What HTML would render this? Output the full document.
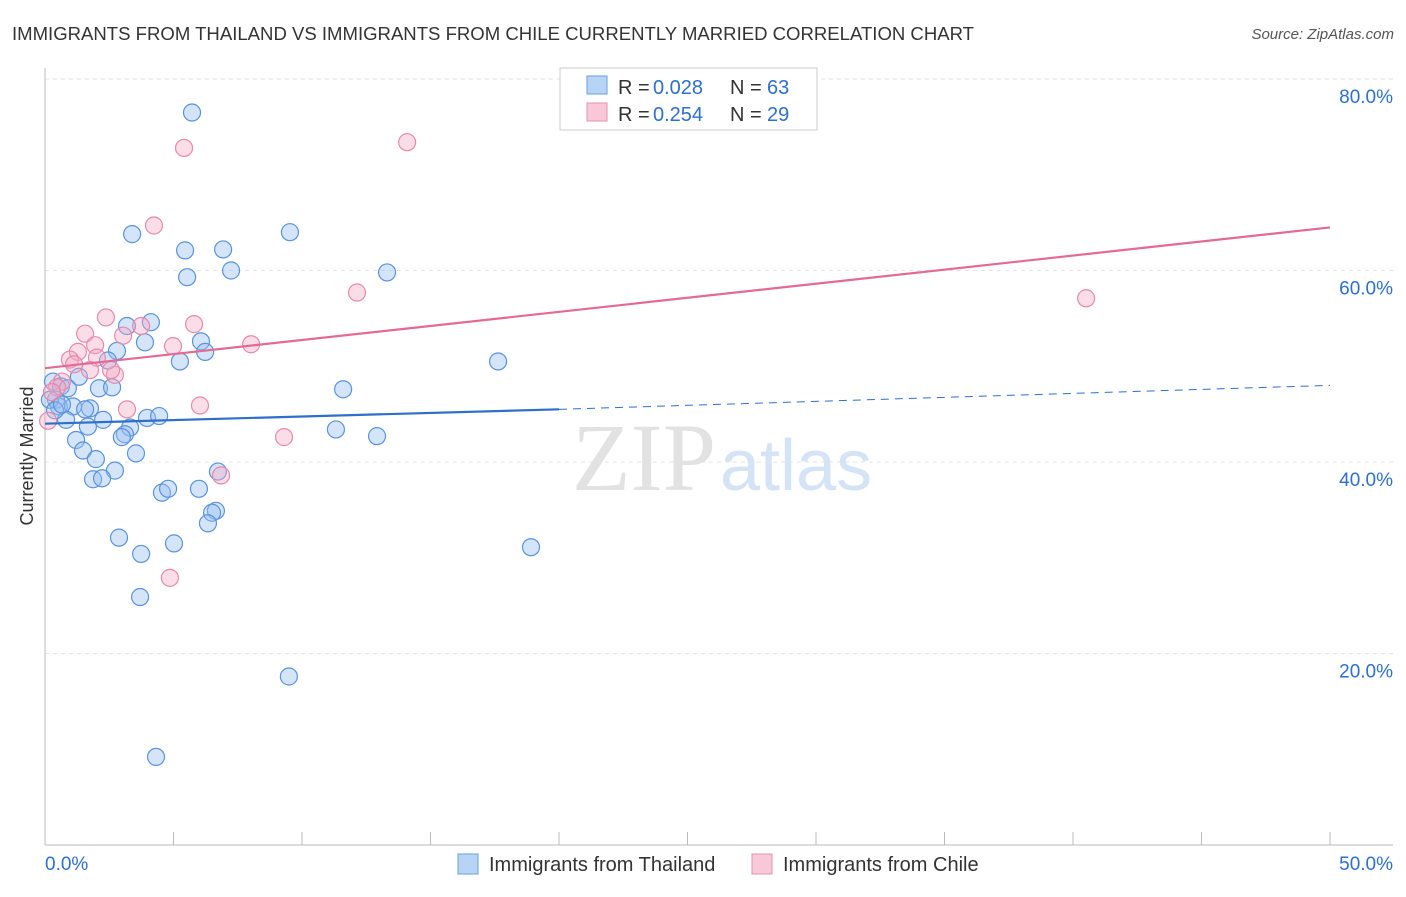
<!DOCTYPE html>
<html><head><meta charset="utf-8"><style>
body{margin:0;background:#fff;font-family:"Liberation Sans",sans-serif;}
</style></head><body>
<svg width="1406" height="892" viewBox="0 0 1406 892" xmlns="http://www.w3.org/2000/svg">
<text x="12" y="40" font-size="18" fill="#333" textLength="962" lengthAdjust="spacingAndGlyphs">IMMIGRANTS FROM THAILAND VS IMMIGRANTS FROM CHILE CURRENTLY MARRIED CORRELATION CHART</text>
<text x="1394" y="39" font-size="15" fill="#555" font-style="italic" text-anchor="end">Source: ZipAtlas.com</text>
<g id="grid"></g>
<g id="axes"></g>
<text x="716" y="490" font-size="96" font-family="Liberation Serif,serif" fill="#e2e2e2" text-anchor="end">ZIP</text>
<text x="720" y="490" font-size="72" fill="#d5e4f5">atlas</text>
<g id="pts"></g>
<g id="lines"></g>
<text transform="translate(33,456) rotate(-90)" font-size="18" fill="#333" text-anchor="middle">Currently Married</text>
<g>
<rect x="560" y="68" width="257" height="62" fill="#fff" stroke="#ccc"/>
<rect x="587" y="76" width="20" height="18" fill="#b8d4f5" stroke="#6a9fdd"/>
<text x="618" y="94" font-size="20" fill="#333">R = </text><text x="653" y="94" font-size="20" fill="#2e6fcc">0.028</text>
<text x="730" y="94" font-size="20" fill="#333">N = </text><text x="767" y="94" font-size="20" fill="#2e6fcc">63</text>
<rect x="587" y="103" width="20" height="18" fill="#f9c8d8" stroke="#e890ae"/>
<text x="618" y="121" font-size="20" fill="#333">R = </text><text x="653" y="121" font-size="20" fill="#2e6fcc">0.254</text>
<text x="730" y="121" font-size="20" fill="#333">N = </text><text x="767" y="121" font-size="20" fill="#2e6fcc">29</text>
</g>
<g>
<rect x="458" y="854" width="20" height="20" fill="#b8d4f5" stroke="#6a9fdd"/>
<text x="489" y="871" font-size="20" fill="#333">Immigrants from Thailand</text>
<rect x="752" y="854" width="20" height="20" fill="#f9c8d8" stroke="#e890ae"/>
<text x="783" y="871" font-size="20" fill="#333">Immigrants from Chile</text>
</g>
</svg>
<script>
const yTicks=[20,40,60,80];
const xTickLabels=["0.0%","50.0%"];
const thaiX=[5.72,3.39,5.45,6.93,9.53,5.53,7.24,13.31,3.19,4.12,2.80,3.89,6.07,6.23,5.25,17.63,1.32,0.31,0.62,0.89,2.10,2.61,2.45,11.60,0.43,0.54,1.09,1.75,1.56,0.82,2.26,1.67,3.97,4.44,11.32,3.31,3.11,2.99,12.92,1.21,1.48,3.54,1.98,6.73,2.72,1.87,2.22,4.55,4.79,5.99,6.65,6.50,6.34,2.88,5.02,3.74,18.91,3.70,9.49,4.32,0.19,0.39,0.66];
const thaiY=[76.5,63.8,62.1,62.2,64.0,59.3,60.0,59.8,54.2,54.6,51.6,52.5,52.6,51.5,50.5,50.5,48.9,48.4,47.9,47.7,47.7,47.8,50.6,47.6,46.5,45.8,45.8,45.6,45.5,44.4,44.4,43.7,44.6,44.8,43.4,43.6,42.9,42.6,42.7,42.3,41.2,40.9,40.3,39.0,39.1,38.2,38.3,36.8,37.2,37.2,34.9,34.7,33.6,32.1,31.5,30.4,31.1,25.9,17.6,9.2,46.5,45.4,46.0];
const chileX=[5.41,14.09,4.24,12.14,40.51,2.37,5.80,3.04,1.56,3.74,4.98,8.02,1.95,1.28,2.02,0.97,1.13,1.75,2.72,2.57,0.66,0.47,0.27,6.03,3.19,9.30,6.85,4.86,0.12];
const chileY=[72.8,73.4,64.7,57.7,57.1,55.1,54.4,53.2,53.4,54.2,52.1,52.3,52.2,51.5,50.9,50.7,50.2,49.6,49.1,49.6,48.4,47.8,47.3,45.9,45.5,42.6,38.6,27.9,44.3];
const blueLine=[[0,44.0],[20,45.5],[50,48.0]];
const pinkLine=[[0,49.8],[50,64.5]];
const NS="http://www.w3.org/2000/svg";
const sx=v=>45+v*25.7, sy=v=>845-v*9.575;
function mk(t,a,p){const e=document.createElementNS(NS,t);for(const k in a)e.setAttribute(k,a[k]);p.appendChild(e);return e;}
const grid=document.getElementById('grid'),axes=document.getElementById('axes');
yTicks.forEach(t=>{
 const l=mk('line',{x1:45,x2:1393,y1:sy(t),y2:sy(t),stroke:'#e3e3e3','stroke-dasharray':'4,4'},grid);
 
 
 const tx=mk('text',{x:1393,y:sy(t)+24,'font-size':19,fill:'#2e6fcc','text-anchor':'end'},axes);
 tx.textContent=t.toFixed(1)+'%';
 
 
});
mk('line',{x1:45,x2:45,y1:68,y2:845,stroke:'#bbb'},axes);
mk('line',{x1:45,x2:1393,y1:845,y2:845,stroke:'#bbb'},axes);
for(let i=0;i<=10;i++)mk('line',{x1:sx(i*5),x2:sx(i*5),y1:832,y2:845,stroke:'#bbb'},axes);
const x0=mk('text',{x:45,y:870,'font-size':19,fill:'#2e6fcc'},axes);x0.textContent=xTickLabels[0];


const x1=mk('text',{x:1393,y:870,'font-size':19,fill:'#2e6fcc','text-anchor':'end'},axes);x1.textContent=xTickLabels[1];


const pts=document.getElementById('pts');
thaiX.forEach((x,i)=>{const c=mk('circle',{cx:sx(x),cy:sy(thaiY[i]),r:8.5,fill:'rgba(150,190,240,0.4)',stroke:'#5a93dc','stroke-width':1.2},pts);
 
 });
chileX.forEach((x,i)=>{const c=mk('circle',{cx:sx(x),cy:sy(chileY[i]),r:8.5,fill:'rgba(245,170,195,0.4)',stroke:'#e68aab','stroke-width':1.2},pts);
 
 });
const lines=document.getElementById('lines');
const b1=mk('line',{x1:sx(blueLine[0][0]),y1:sy(blueLine[0][1]),x2:sx(blueLine[1][0]),y2:sy(blueLine[1][1]),stroke:'#2e6fcc','stroke-width':2.2},lines);


const b2=mk('line',{x1:sx(blueLine[1][0]),y1:sy(blueLine[1][1]),x2:sx(blueLine[2][0]),y2:sy(blueLine[2][1]),stroke:'#2e6fcc','stroke-width':1,'stroke-dasharray':'8,6'},lines);


const p1=mk('line',{x1:sx(pinkLine[0][0]),y1:sy(pinkLine[0][1]),x2:sx(pinkLine[1][0]),y2:sy(pinkLine[1][1]),stroke:'#e36a95','stroke-width':2.2},lines);


</script>
</body></html>
